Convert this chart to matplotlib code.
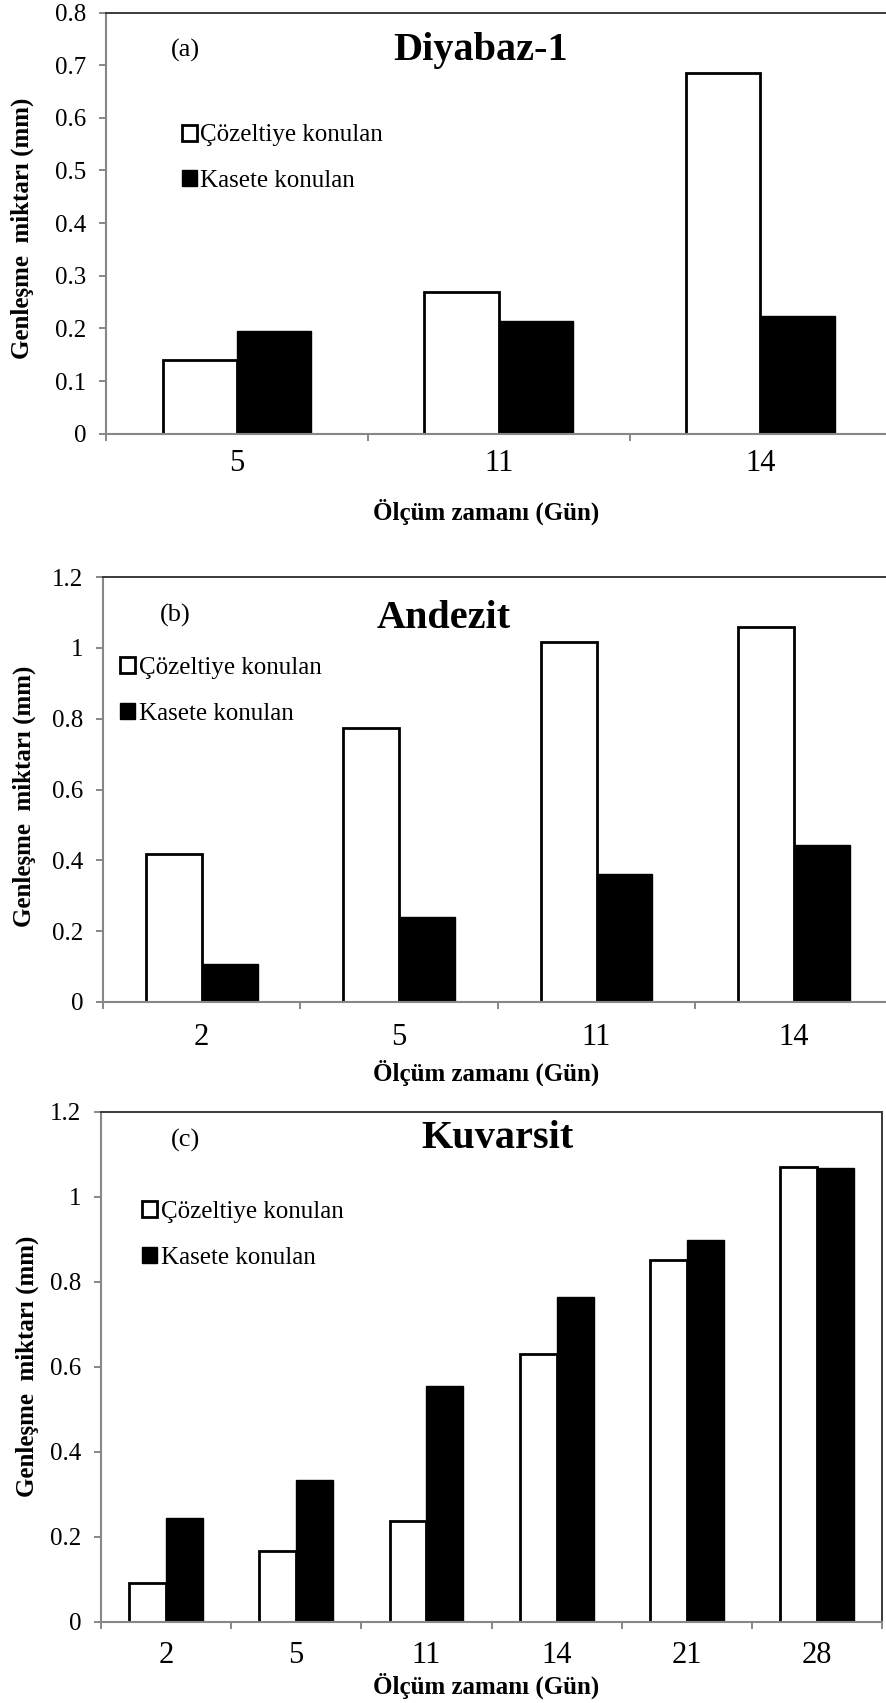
import matplotlib
matplotlib.use("Agg")
import matplotlib.pyplot as plt
import numpy as np

plt.rcParams['font.family'] = ['Liberation Serif', 'DejaVu Serif']

# ---- data ----
days_a = ['5', '11', '14']
cozelti_a = [0.140, 0.270, 0.686]
kaset_a = [0.195, 0.214, 0.223]

days_b = ['2', '5', '11', '14']
cozelti_b = [0.419, 0.774, 1.018, 1.058]
kaset_b = [0.107, 0.241, 0.361, 0.442]

days_c = ['2', '5', '11', '14', '21', '28']
cozelti_c = [0.090, 0.166, 0.236, 0.629, 0.850, 1.069]
kaset_c = [0.244, 0.334, 0.554, 0.763, 0.898, 1.067]

titles = ['Diyabaz-1', 'Andezit', 'Kuvarsit']
tags = ['(a)', '(b)', '(c)']
ylims = [0.8, 1.2, 1.2]
ysteps = [0.1, 0.2, 0.2]
label_w = 'Çözeltiye konulan'
label_k = 'Kasete konulan'
xlabel = 'Ölçüm zamanı (Gün)'
ylabel = 'Genleşme  miktarı (mm)'

W, H = 887, 1703
fig = plt.figure(figsize=(W / 100, H / 100), dpi=100)

def fx(px):
    return px / W

def fy(py):
    return 1 - py / H

# axes boxes in pixels: left, right, top, bottom
boxes = [(105.8, 891.4, 12.5, 433.7),
         (103.0, 892.6, 577.2, 1001.8),
         (100.7, 882.4, 1111.5, 1621.7)]
title_pos = [(481, 50.7), (444, 618.5), (498, 1139)]
tag_pos = [(185, 50.7), (175, 615), (185.5, 1140.8)]
leg_pos = [(181.7, 124.5), (120.0, 657), (142.5, 1201)]
xlab_y = [512, 1073, 1686]
ylab_pos = [(22.6, 228), (24, 796), (27, 1366)]
xtick_pad = [11.3, 15, 13.7]

datasets = [(days_a, cozelti_a, kaset_a),
            (days_b, cozelti_b, kaset_b),
            (days_c, cozelti_c, kaset_c)]

grey = '#878787'
bw = 0.283

for k, (days, cw, kk) in enumerate(datasets):
    l, r, t, b = boxes[k]
    ax = fig.add_axes([fx(l), fy(b), (r - l) / W, (b - t) / H])
    x = np.arange(len(days))
    bw_w = ax.bar(x - bw / 2, cw, width=bw, color='white', edgecolor='black',
                  linewidth=2.0, label=label_w)
    bw_k = ax.bar(x + bw / 2, kk, width=bw, color='black', edgecolor='black',
                  linewidth=1.0, label=label_k)
    ax.set_xlim(-0.5, len(days) - 0.5)
    ax.set_ylim(0, ylims[k])
    yt = np.round(np.arange(0, ylims[k] + 1e-9, ysteps[k]), 2)
    ax.set_yticks(yt)
    ax.set_yticklabels([('%g' % v) for v in yt])
    ax.set_xticks(np.arange(-0.5, len(days), 1.0))
    ax.set_xticklabels([])
    ax.set_xticks(x, minor=True)
    ax.set_xticklabels(days, minor=True)
    ax.tick_params(axis='x', which='minor', length=0, labelsize=22, pad=xtick_pad[k])
    ax.tick_params(axis='x', which='major', length=7 * 0.72, width=1.4, color=grey)
    ax.tick_params(axis='y', length=7 * 0.72, width=1.4, color=grey, labelsize=18, pad=9)
    for s in ['left', 'bottom']:
        ax.spines[s].set_color(grey)
        ax.spines[s].set_linewidth(1.5)
    for s in ['top', 'right']:
        ax.spines[s].set_color('#3a3a3a')
        ax.spines[s].set_linewidth(1.4)

    fig.text(fx(title_pos[k][0]), fy(title_pos[k][1]), titles[k], fontsize=29,
             fontweight='bold', ha='center', va='center')
    fig.text(fx(tag_pos[k][0]), fy(tag_pos[k][1]), tags[k], fontsize=19,
             ha='center', va='center')
    fig.text(fx(486), fy(xlab_y[k]), xlabel,
             fontsize=18, fontweight='bold', ha='center', va='center')
    fig.text(fx(ylab_pos[k][0]), fy(ylab_pos[k][1]), ylabel, fontsize=18,
             fontweight='bold', ha='center', va='center', rotation=90)
    fig.legend(handles=[bw_w, bw_k], loc='upper left',
               bbox_to_anchor=(fx(leg_pos[k][0]), fy(leg_pos[k][1])),
               frameon=False, fontsize=18, borderpad=0, borderaxespad=0,
               handlelength=0.6, handleheight=0.6, handletextpad=0.15,
               labelspacing=0.94)

fig.savefig('out.png', dpi=100)
